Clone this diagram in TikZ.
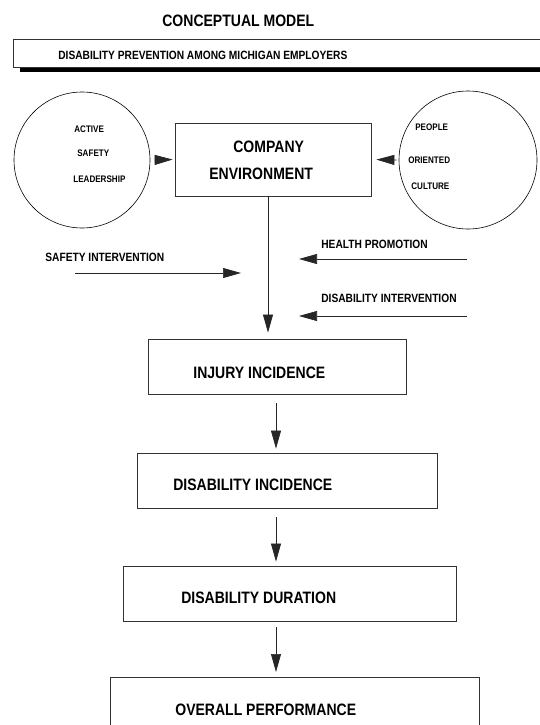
\documentclass[tikz,border=0pt]{standalone}
\usepackage{fontspec}
\setmainfont{Liberation Sans}[FakeStretch=0.85]
\usetikzlibrary{arrows.meta}
\begin{document}
\begin{tikzpicture}[x=1pt,y=-1pt,line width=0.7pt,
    tip/.style={draw=black!85,-{Triangle[length=18pt,width=10pt]}},
    stagebox/.style={draw=black!80,line width=0.8pt,inner sep=0pt},
    ring/.style={draw,circle,line width=0.6pt,inner sep=0pt},
    bigtext/.style={font=\bfseries\fontsize{16.5}{20}\selectfont,inner sep=0pt,anchor=west},
    smalltext/.style={font=\bfseries\fontsize{12}{14}\selectfont,inner sep=0pt,anchor=west},
    tinytext/.style={font=\bfseries\fontsize{9.5}{11}\selectfont,inner sep=0pt,anchor=west}]
    \useasboundingbox (0,0) rectangle (539,725);

    \node[bigtext] (title) at (162,21) {CONCEPTUAL MODEL};
    \fill[black] (20,67) rectangle (545,72);
    \draw[draw=black!80,fill=white] (13,39) rectangle (545,67);
    \node[smalltext] (banner) at (58,55) {DISABILITY PREVENTION AMONG MICHIGAN EMPLOYERS};

    \node[ring,minimum size=136pt] (lead) at (82,160) {};
    \node[tinytext] (lead1) at (74,129) {ACTIVE};
    \node[tinytext] (lead2) at (77,153) {SAFETY};
    \node[tinytext] (lead3) at (73,179) {LEADERSHIP};

    \node[ring,minimum size=138pt] (cult) at (468,160) {};
    \node[tinytext] (cult1) at (415,127) {PEOPLE};
    \node[tinytext] (cult2) at (408,160) {ORIENTED};
    \node[tinytext] (cult3) at (411,186) {CULTURE};

    \node[stagebox,minimum width=196pt,minimum height=73pt] (env) at (273,159.5) {};
    \node[bigtext] (env1) at (233,147) {COMPANY};
    \node[bigtext] (env2) at (209,174) {ENVIRONMENT};

    \draw[tip,shorten <=5pt,shorten >=2pt] (lead.east) -- (env.west);
    \draw[tip,shorten <=2pt,shorten >=5pt] (cult.west) -- (env.east);

    \node[stagebox,minimum width=258pt,minimum height=55pt] (inj) at (277,366.5) {};
    \node[bigtext] (inj1) at (193,373) {INJURY INCIDENCE};
    \node[stagebox,minimum width=300pt,minimum height=55pt] (dinc) at (287,480.5) {};
    \node[bigtext] (dinc1) at (173,485) {DISABILITY INCIDENCE};
    \node[stagebox,minimum width=333pt,minimum height=55pt] (ddur) at (289.5,593.5) {};
    \node[bigtext] (ddur1) at (181,598) {DISABILITY DURATION};
    \draw[stagebox] (110,677) rectangle (479,740);
    \coordinate (perf) at (294.5,677);
    \node[bigtext] (perf1) at (175,710) {OVERALL PERFORMANCE};

    \coordinate (mainx) at (268,0);
    \coordinate (stepx) at (276,0);
    \draw[tip,shorten >=6pt] (env.south -| mainx) -- (inj.north -| mainx);
    \draw[tip,shorten <=9pt,shorten >=4pt] (inj.south -| stepx) -- (dinc.north -| stepx);
    \draw[tip,shorten <=9pt,shorten >=4pt] (dinc.south -| stepx) -- (ddur.north -| stepx);
    \draw[tip,shorten <=6pt,shorten >=5pt] (ddur.south -| stepx) -- (perf -| stepx);

    \node[smalltext] (safe) at (45,257) {SAFETY INTERVENTION};
    \coordinate (safe-a) at (75,273);
    \coordinate (safe-b) at (241,273);
    \draw[tip] (safe-a) -- (safe-b);

    \node[smalltext] (health) at (321,244) {HEALTH PROMOTION};
    \coordinate (health-a) at (467,259);
    \coordinate (health-b) at (299,259);
    \draw[tip] (health-a) -- (health-b);

    \node[smalltext] (disint) at (321,298) {DISABILITY INTERVENTION};
    \coordinate (disint-a) at (467,316);
    \coordinate (disint-b) at (299,316);
    \draw[tip] (disint-a) -- (disint-b);
  \end{tikzpicture}
\end{document}
